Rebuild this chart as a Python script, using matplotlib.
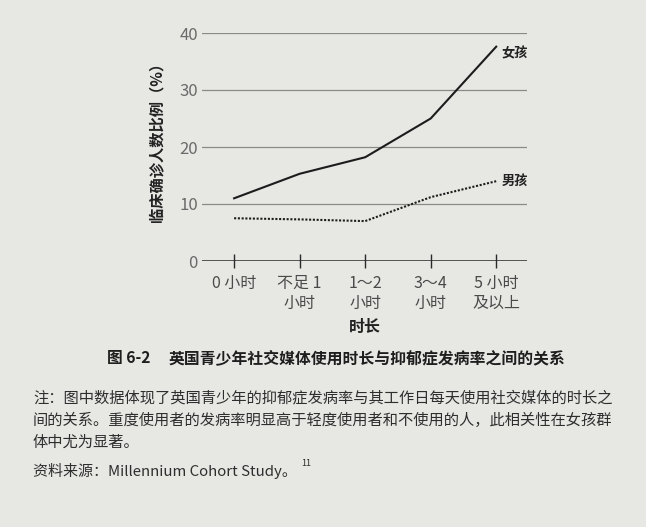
import matplotlib
matplotlib.use("Agg")
import matplotlib.pyplot as plt

plt.rcParams['font.family'] = ['Noto Sans CJK SC', 'DejaVu Sans']

categories = ["0 小时", "不足 1\n小时", "1～2\n小时", "3～4\n小时", "5 小时\n及以上"]
girls = [11, 15.3, 18.2, 25, 37.6]
boys = [7.5, 7.3, 7.0, 11.2, 14]
yticks = [0, 10, 20, 30, 40]

W, H = 646, 527
fig = plt.figure(figsize=(W / 100, H / 100), dpi=100)
bg = "#e7e7e4"
fig.patch.set_facecolor(bg)

left, right, top, bottom = 202, 527, 33, 261
ax = fig.add_axes([left / W, 1 - bottom / H, (right - left) / W, (bottom - top) / H])
ax.set_facecolor(bg)
x = list(range(len(categories)))
ax.set_xlim(-0.49, 4.47)
ax.set_ylim(0, 40)

for yv in yticks[1:]:
    ax.axhline(yv, color="#8a8a88", lw=0.9, zorder=1)
ax.axhline(0, color="#2a2a2a", lw=1.1, zorder=2)

ax.plot(x, girls, color="#1c1c1c", lw=1.5, zorder=3, clip_on=False)
ax.plot(x, boys, color="#1c1c1c", lw=1.5, ls=(0, (1, 0.8)), zorder=3, clip_on=False)

for s in ax.spines.values():
    s.set_visible(False)
ax.set_yticks(yticks)
ax.set_yticklabels([str(v) for v in yticks], color="#6a6a6a", fontsize=12)
ax.tick_params(axis="y", length=0, pad=3)
ax.set_xticks(x)
ax.set_xticklabels(categories, color="#4a4a4a", fontsize=11.5, linespacing=1.25, va="top")
ax.tick_params(axis="x", direction="inout", length=10, width=1, color="#2a2a2a", pad=5)

ax.set_xlabel("时长", fontsize=11.5, fontweight="bold", color="#222222", labelpad=5)
ax.set_ylabel("临床确诊人数比例（%）", fontsize=11, fontweight="bold", color="#222222")
ax.yaxis.set_label_coords(-0.115, 0.54)

ax.text(4.08, girls[-1] - 1.1, "女孩", fontsize=9.5, fontweight="bold", color="#222222",
        va="center", ha="left")
ax.text(4.08, boys[-1] - 0.2, "男孩", fontsize=9.5, fontweight="bold", color="#222222",
        va="center", ha="left")

fig.text(107 / W, 1 - 358 / H, "图 6-2", fontsize=11.3, fontweight="bold", color="#1e1e1e",
         va="center", ha="left")
fig.text(169 / W, 1 - 358 / H, "英国青少年社交媒体使用时长与抑郁症发病率之间的关系",
         fontsize=11.4, fontweight="bold", color="#1e1e1e", va="center", ha="left")

note = ("注：图中数据体现了英国青少年的抑郁症发病率与其工作日每天使用社交媒体的时长之\n"
        "间的关系。重度使用者的发病率明显高于轻度使用者和不使用的人，此相关性在女孩群\n"
        "体中尤为显著。")
fig.text(33 / W, 1 - 389 / H, note, fontsize=11, color="#2e2e2e", va="top", ha="left",
         linespacing=1.42)
fig.text(33 / W, 1 - 471 / H, "资料来源：Millennium Cohort Study。", fontsize=10.8,
         color="#2e2e2e", va="center", ha="left")
fig.text(301 / W, 1 - 463 / H, "11", fontsize=6.5, color="#2e2e2e", va="center", ha="left")

fig.savefig("out.png", dpi=100, facecolor=bg)
